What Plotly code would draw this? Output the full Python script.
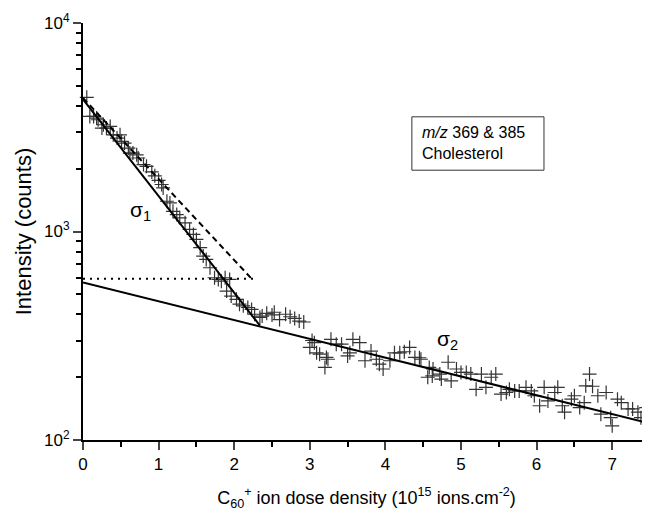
import plotly.graph_objects as go

# measured points (dose density, counts)
dose = [0.05, 0.09, 0.14, 0.18, 0.20, 0.25, 0.27, 0.31, 0.36, 0.40, 0.45, 0.49, 0.51, 0.55,
        0.60, 0.62, 0.66, 0.71, 0.73, 0.80, 0.84, 0.91, 0.95, 1.00, 1.04, 1.06, 1.11, 1.15,
        1.19, 1.24, 1.28, 1.35, 1.41, 1.46, 1.50, 1.55, 1.59, 1.63, 1.68, 1.74, 1.79, 1.83,
        1.88, 1.90, 1.94, 1.96, 2.03, 2.07, 2.12, 2.18, 2.23, 2.27, 2.34,
        2.37, 2.43, 2.50, 2.53, 2.60, 2.68, 2.74, 2.80, 2.86, 2.92,
        3.00, 3.03, 3.06, 3.09, 3.13, 3.20, 3.22, 3.24, 3.28, 3.35, 3.42, 3.50, 3.53, 3.57,
        3.66, 3.73, 3.81, 3.88, 3.92, 3.97, 4.06, 4.12, 4.19, 4.25, 4.32, 4.39, 4.45, 4.47,
        4.56, 4.58, 4.62, 4.63, 4.72, 4.74, 4.83, 4.87, 4.94, 5.00, 5.07, 5.13, 5.20, 5.27,
        5.33, 5.40, 5.46, 5.53, 5.60, 5.64, 5.71, 5.77, 5.86, 5.93, 5.97, 6.04, 6.10, 6.15,
        6.24, 6.28, 6.34, 6.37, 6.46, 6.50, 6.57, 6.63, 6.65, 6.70, 6.74, 6.81, 6.85, 6.92,
        6.98, 7.00, 7.07, 7.12, 7.21, 7.27, 7.34, 7.38, 7.45, 7.49]
counts = [4400, 3565, 3565, 3500, 3435, 3135, 3250, 3135, 3190, 2910, 2806, 2910, 2704, 2655,
          2512, 2377, 2377, 2333, 2252, 2094, 2053, 1931, 1850, 1760, 1680, 1618, 1397, 1371,
          1250, 1205, 1163, 1101, 1023, 968, 916, 836, 762, 735, 670, 600, 589, 578,
          600, 518, 589, 490, 473, 448, 440, 432, 423, 401, 387,
          393, 405, 398, 410, 378, 401, 390, 383, 372, 368,
          278, 300, 293, 262, 258, 223, 249, 244, 304, 288, 288, 253, 262, 304,
          293, 240, 267, 244, 231, 219, 240, 262, 262, 265, 278, 249, 248, 244,
          200, 223, 203, 219, 207, 196, 236, 192, 219, 211, 211, 207, 175, 207,
          179, 200, 207, 166, 169, 175, 172, 172, 179, 172, 163, 146, 179, 154,
          169, 179, 146, 136, 157, 163, 143, 151, 182, 207, 181, 163, 133, 169,
          128, 117, 157, 151, 141, 141, 136, 128, 143, 133]

# fitted lines
fit1_x = [0.0, 2.34]
fit1_y = [4300, 354]
fit2_x = [0.0, 7.5]
fit2_y = [570, 120]
dash_x = [0.0, 2.23]
dash_y = [4370, 594]
dot_x = [0.0, 2.25]
dot_y = [594, 594]

x_ticks = [0, 1, 2, 3, 4, 5, 6, 7]
x_minor = [0.5, 1.5, 2.5, 3.5, 4.5, 5.5, 6.5, 7.5]
y_ticks = [100, 1000, 10000]
y_tick_text = ["10<sup>2</sup>", "10<sup>3</sup>", "10<sup>4</sup>"]
y_minor = [200, 300, 400, 500, 600, 700, 800, 900,
           2000, 3000, 4000, 5000, 6000, 7000, 8000, 9000]

FONT = "Liberation Sans, Arial, sans-serif"

fig = go.Figure()
fig.add_trace(go.Scatter(x=dose, y=counts, mode="markers",
                         marker=dict(symbol="cross-thin", size=10,
                                     line=dict(width=1.2, color="#333333")),
                         showlegend=False, cliponaxis=False))
fig.add_trace(go.Scatter(x=fit1_x, y=fit1_y, mode="lines",
                         line=dict(color="black", width=2), showlegend=False))
fig.add_trace(go.Scatter(x=fit2_x, y=fit2_y, mode="lines",
                         line=dict(color="black", width=2), showlegend=False))
fig.add_trace(go.Scatter(x=dash_x, y=dash_y, mode="lines",
                         line=dict(color="black", width=2, dash="6px,4px"), showlegend=False))
fig.add_trace(go.Scatter(x=dot_x, y=dot_y, mode="lines",
                         line=dict(color="black", width=2, dash="2px,5px"), showlegend=False))

fig.add_annotation(x=0.76, y=3.10, xref="x", yref="y", text="σ<sub>1</sub>",
                   showarrow=False, font=dict(family=FONT, size=21, color="black"))
fig.add_annotation(x=4.82, y=2.48, xref="x", yref="y", text="σ<sub>2</sub>",
                   showarrow=False, font=dict(family=FONT, size=21, color="black"))

fig.add_shape(type="rect", xref="paper", yref="paper",
              x0=0.580, x1=0.813, y0=0.647, y1=0.775,
              line=dict(color="#333333", width=1))
fig.add_annotation(x=0.594, y=0.762, xref="paper", yref="paper",
                   xanchor="left", yanchor="top", align="left", showarrow=False,
                   text="<i>m/z</i> 369 &amp; 385<br>Cholesterol",
                   font=dict(family=FONT, size=16, color="black"))

fig.update_layout(
    width=642, height=503,
    margin=dict(l=75, r=0, t=15, b=71),
    plot_bgcolor="white", paper_bgcolor="white",
    font=dict(family=FONT, size=16, color="black"),
    xaxis=dict(range=[0, 7.5], tickvals=x_ticks, ticks="outside", ticklen=8, tickwidth=2,
               showline=True, linewidth=2, linecolor="black", showgrid=False, zeroline=False,
               tickfont=dict(size=17),
               minor=dict(tickvals=x_minor, ticks="outside", ticklen=5, tickwidth=2,
                          tickcolor="black", showgrid=False),
               title=dict(text="C<sub>60</sub><sup>+</sup> ion dose density (10<sup>15</sup> ions.cm<sup>-2</sup>)",
                          font=dict(size=18), standoff=18)),
    yaxis=dict(type="log", range=[2, 4], tickvals=y_ticks, ticktext=y_tick_text,
               ticks="outside", ticklen=8, tickwidth=2,
               showline=True, linewidth=2, linecolor="black", showgrid=False, zeroline=False,
               tickfont=dict(size=17),
               minor=dict(tickvals=y_minor, ticks="outside", ticklen=5, tickwidth=2,
                          tickcolor="black", showgrid=False),
               title=dict(text="Intensity (counts)", font=dict(size=22), standoff=6)),
)

fig.write_html("out.html")
